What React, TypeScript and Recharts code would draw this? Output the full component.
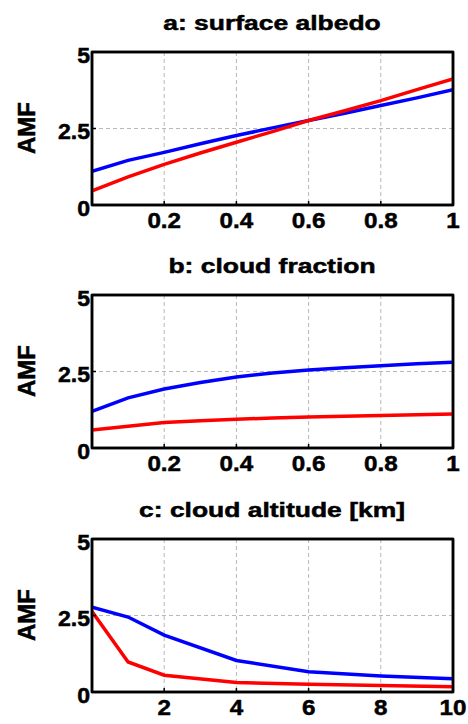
import React from 'react';
import { LineChart, Line, XAxis, YAxis, CartesianGrid, ReferenceArea } from 'recharts';

// AMF sensitivity to surface albedo, cloud fraction and cloud altitude
const albedoX = [0, 0.1, 0.2, 0.3, 0.4, 0.5, 0.6, 0.7, 0.8, 0.9, 1];
const albedoBlue = [1.1, 1.46, 1.72, 2.0, 2.27, 2.52, 2.76, 3.0, 3.25, 3.5, 3.77];
const albedoRed = [0.46, 0.92, 1.33, 1.7, 2.05, 2.4, 2.76, 3.08, 3.41, 3.77, 4.12];

const cloudFracX = [0, 0.1, 0.2, 0.3, 0.4, 0.5, 0.6, 0.7, 0.8, 0.9, 1];
const cloudFracBlue = [1.2, 1.64, 1.93, 2.14, 2.32, 2.45, 2.55, 2.62, 2.69, 2.75, 2.8];
const cloudFracRed = [0.59, 0.71, 0.83, 0.89, 0.94, 0.98, 1.01, 1.04, 1.06, 1.09, 1.11];

const cloudAltX = [0, 1, 2, 4, 6, 8, 10];
const cloudAltBlue = [2.77, 2.45, 1.86, 1.03, 0.66, 0.52, 0.43];
const cloudAltRed = [2.63, 0.98, 0.55, 0.31, 0.25, 0.21, 0.17];

const fracTicks = [0.2, 0.4, 0.6, 0.8, 1];
const altTicks = [2, 4, 6, 8, 10];
const amfTicks = [0, 2.5, 5];

const FONT = '"Liberation Sans", Arial, Helvetica, sans-serif';
const W = 468;
const PLOT_LEFT = 92;
const PLOT_RIGHT = 454;

type Panel = {
  title: string;
  top: number;
  height: number;
  plotTop: number;
  xs: number[];
  blue: number[];
  red: number[];
  xMax: number;
  xTicks: number[];
};

const panels: Panel[] = [
  { title: 'a: surface albedo', top: 0, height: 240, plotTop: 51, xs: albedoX, blue: albedoBlue, red: albedoRed, xMax: 1, xTicks: fracTicks },
  { title: 'b: cloud fraction', top: 243, height: 241, plotTop: 294, xs: cloudFracX, blue: cloudFracBlue, red: cloudFracRed, xMax: 1, xTicks: fracTicks },
  { title: 'c: cloud altitude [km]', top: 487, height: 237, plotTop: 538, xs: cloudAltX, blue: cloudAltBlue, red: cloudAltRed, xMax: 10, xTicks: altTicks },
];

// bold labels get a thin outline so they read as heavy as the MATLAB font
const heavy = { stroke: '#000', strokeWidth: 0.5 };

function XTick({ x, y, payload }: any) {
  return (
    <text
      transform={`translate(${x} ${y + 30.5}) scale(1.1 1)`}
      textAnchor="middle"
      fontFamily={FONT}
      fontWeight="bold"
      fontSize={22}
      fill="#000"
      {...heavy}
    >
      {String(payload.value)}
    </text>
  );
}

function YTick({ x, y, payload }: any) {
  return (
    <text
      transform={`translate(${x - 10} ${y + 10.5}) scale(1.05 1)`}
      textAnchor="end"
      fontFamily={FONT}
      fontWeight="bold"
      fontSize={22}
      fill="#000"
      {...heavy}
    >
      {String(payload.value)}
    </text>
  );
}

function PanelChart({ p }: { p: Panel }) {
  const rows = p.xs.map((x, i) => ({ x, blue: p.blue[i], red: p.red[i] }));
  const axisLine = { stroke: '#000', strokeWidth: 2.5 };
  const tickLine = { stroke: '#000', strokeWidth: 1.5 };
  const xAxisH = p.height - (p.plotTop - p.top) - 154;
  return (
    <div style={{ position: 'absolute', left: 0, top: p.top }}>
      <LineChart
        width={W}
        height={p.height}
        data={rows}
        margin={{ top: p.plotTop - p.top, right: W - PLOT_RIGHT, bottom: 0, left: 0 }}
      >
        <CartesianGrid stroke="#b8b8b8" strokeDasharray="4 3" strokeWidth={1} />
        <XAxis
          dataKey="x"
          type="number"
          domain={[0, p.xMax]}
          ticks={p.xTicks}
          height={xAxisH}
          axisLine={axisLine}
          tickLine={tickLine}
          tickSize={-4}
          tickMargin={-4}
          tick={<XTick />}
          allowDataOverflow
        />
        <XAxis
          xAxisId="top"
          dataKey="x"
          orientation="top"
          type="number"
          domain={[0, p.xMax]}
          ticks={p.xTicks}
          height={1}
          axisLine={axisLine}
          tickLine={tickLine}
          tickSize={-4}
          tick={false}
          allowDataOverflow
        />
        <YAxis
          type="number"
          domain={[0, 5]}
          ticks={amfTicks}
          width={PLOT_LEFT}
          axisLine={axisLine}
          tickLine={tickLine}
          tickSize={-4}
          tickMargin={-4}
          tick={<YTick />}
          allowDataOverflow
        />
        <YAxis
          yAxisId="right"
          orientation="right"
          type="number"
          domain={[0, 5]}
          ticks={amfTicks}
          width={1}
          axisLine={axisLine}
          tickLine={tickLine}
          tickSize={-4}
          tick={false}
          allowDataOverflow
        />
        <ReferenceArea
          x1={0}
          x2={p.xMax}
          y1={0}
          y2={5}
          fill="none"
          fillOpacity={0}
          stroke="#000"
          strokeWidth={2.5}
          ifOverflow="visible"
        />
        <Line type="linear" dataKey="blue" stroke="#0000ff" strokeWidth={3.5} dot={false} isAnimationActive={false} />
        <Line
          type="linear"
          dataKey="red"
          xAxisId="top"
          yAxisId="right"
          stroke="#ff0000"
          strokeWidth={3.5}
          dot={false}
          isAnimationActive={false}
        />
      </LineChart>
    </div>
  );
}

export default function App() {
  const cx = (PLOT_LEFT + PLOT_RIGHT) / 2;
  return (
    <div style={{ position: 'absolute', left: 0, top: 0, width: W, height: 724, overflow: 'hidden', background: '#fff' }}>
      {panels.map((p) => (
        <PanelChart key={p.title} p={p} />
      ))}
      <svg width={W} height={724} style={{ position: 'absolute', left: 0, top: 0, pointerEvents: 'none' }}>
        {panels.map((p) => (
          <g key={p.title} fontFamily={FONT} fontWeight="bold" fill="#000" stroke="#000" strokeWidth={0.5}>
            <text transform={`translate(${cx - 1} ${p.plotTop - 21}) scale(1.26 1)`} textAnchor="middle" fontSize={21}>
              {p.title}
            </text>
            <text transform={`translate(35 ${p.plotTop + 77}) rotate(-90)`} textAnchor="middle" fontSize={24}>
              AMF
            </text>
          </g>
        ))}
      </svg>
    </div>
  );
}
